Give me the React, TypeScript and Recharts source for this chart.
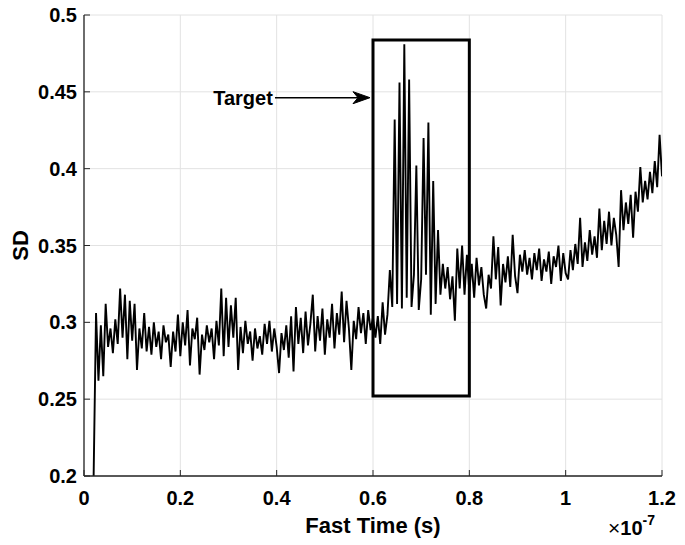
import React from 'react';
import {
  LineChart,
  Line,
  XAxis,
  YAxis,
  CartesianGrid,
  ReferenceArea,
  ReferenceLine,
  ReferenceDot,
} from 'recharts';

// Sampling grid of the measured SD trace (fast time, units of 1e-7 s)
const T_START = 0.02;
const T_STEP = 0.005;

// SD values, segment by segment
const sdSegA = [
  0.2, 0.306, 0.262, 0.298, 0.265, 0.312, 0.284, 0.296, 0.28, 0.302,
  0.286, 0.322, 0.29, 0.318, 0.276, 0.314, 0.288, 0.312, 0.269, 0.296,
  0.283, 0.306, 0.281, 0.297, 0.279, 0.3, 0.284, 0.294, 0.276, 0.298,
  0.287, 0.292, 0.271, 0.294, 0.281, 0.305, 0.278, 0.3, 0.285, 0.308,
  0.272, 0.296, 0.289, 0.303, 0.266, 0.292, 0.282, 0.298, 0.287, 0.296,
  0.276, 0.301, 0.285, 0.322, 0.278, 0.316, 0.284,
];
const sdSegB = [
  0.311, 0.29, 0.316, 0.269, 0.297, 0.28, 0.301, 0.286, 0.294, 0.275,
  0.296, 0.283, 0.291, 0.279, 0.299, 0.286, 0.301, 0.281, 0.296, 0.284,
  0.267, 0.293, 0.282, 0.298, 0.277, 0.304, 0.268, 0.31, 0.286, 0.303,
  0.28, 0.307, 0.285, 0.299, 0.318, 0.281, 0.304, 0.288, 0.309, 0.279,
  0.302, 0.29, 0.312, 0.283, 0.306, 0.292, 0.32, 0.287, 0.314, 0.296,
  0.269, 0.301, 0.289, 0.31, 0.293, 0.306, 0.286, 0.308, 0.295, 0.303,
];
const sdSegC = [
  0.29, 0.304, 0.286, 0.313, 0.292, 0.305, 0.334, 0.31, 0.432, 0.312,
  0.456, 0.309, 0.481, 0.316, 0.458, 0.31, 0.331, 0.402, 0.308, 0.328,
  0.42, 0.331, 0.43, 0.305, 0.392, 0.312, 0.36, 0.318, 0.338, 0.322,
  0.336, 0.315, 0.33, 0.301, 0.348, 0.322, 0.35, 0.318, 0.344, 0.32,
];
const sdSegD = [
  0.338, 0.316, 0.342, 0.324, 0.336, 0.318, 0.309, 0.331, 0.322, 0.356,
  0.328, 0.349, 0.311, 0.338, 0.326, 0.343, 0.323, 0.357, 0.33, 0.319,
  0.344, 0.333, 0.347, 0.331, 0.342, 0.328, 0.345, 0.334, 0.348, 0.327,
  0.341, 0.333, 0.346, 0.325, 0.343, 0.336, 0.35, 0.327, 0.345, 0.332,
];
const sdSegE = [
  0.328, 0.347, 0.334, 0.351, 0.338, 0.368, 0.336, 0.352, 0.34, 0.36,
  0.344, 0.356, 0.342, 0.374, 0.347, 0.366, 0.351, 0.372, 0.35, 0.368,
  0.357, 0.336, 0.386, 0.36, 0.378, 0.364, 0.383, 0.355, 0.385, 0.372,
  0.401, 0.378, 0.392, 0.38, 0.398, 0.384, 0.405, 0.388, 0.422, 0.395,
];

const xTicks = [0, 0.2, 0.4, 0.6, 0.8, 1, 1.2];
const xTickLabels = ['0', '0.2', '0.4', '0.6', '0.8', '1', '1.2'];
const yTicks = [0.2, 0.25, 0.3, 0.35, 0.4, 0.45, 0.5];
const yTickLabels = ['0.2', '0.25', '0.3', '0.35', '0.4', '0.45', '0.5'];

// Target box and annotation (data coordinates)
const targetBox = { x1: 0.6, x2: 0.8, y1: 0.252, y2: 0.4837 };
const arrowY = 0.4462;
const arrowStartX = 0.3965;
const arrowTipX = 0.5938;
const targetTextX = 0.392;

const sdValues = [...sdSegA, ...sdSegB, ...sdSegC, ...sdSegD, ...sdSegE];
const data = sdValues.map((v, i) => ({
  t: Number((T_START + i * T_STEP).toFixed(3)),
  sd: v,
}));

const FONT = '"Liberation Sans", Arial, Helvetica, sans-serif';
const AXIS_COLOR = '#262626';
const GRID_COLOR = '#e2e2e2';
const TICK_FS = 20;

const LeftTick = (props: any) => {
  const { x, y, index } = props;
  return (
    <g>
      <line x1={x} y1={y} x2={x + 6} y2={y} stroke={AXIS_COLOR} strokeWidth={1} />
      <text
        x={x - 7}
        y={y}
        textAnchor="end"
        dominantBaseline="central"
        fontFamily={FONT}
        fontWeight="bold"
        fontSize={TICK_FS}
        fill="#000"
      >
        {yTickLabels[index]}
      </text>
    </g>
  );
};

const RightTick = (props: any) => {
  const { x, y } = props;
  return <line x1={x} y1={y} x2={x - 6} y2={y} stroke={AXIS_COLOR} strokeWidth={1} />;
};

const BottomTick = (props: any) => {
  const { x, y, index } = props;
  return (
    <g>
      <line x1={x} y1={y} x2={x} y2={y - 6} stroke={AXIS_COLOR} strokeWidth={1} />
      <text
        x={x}
        y={y + 22}
        textAnchor="middle"
        dominantBaseline="central"
        fontFamily={FONT}
        fontWeight="bold"
        fontSize={TICK_FS}
        fill="#000"
      >
        {xTickLabels[index]}
      </text>
    </g>
  );
};

const TopTick = (props: any) => {
  const { x, y } = props;
  return <line x1={x} y1={y} x2={x} y2={y + 6} stroke={AXIS_COLOR} strokeWidth={1} />;
};

const YTitle = (props: any) => {
  const vb = props.viewBox || { x: 24, y: 15, width: 60, height: 461 };
  const cx = vb.x - 4;
  const cy = vb.y + vb.height / 2;
  return (
    <text
      x={cx}
      y={cy}
      transform={`rotate(-90, ${cx}, ${cy})`}
      textAnchor="middle"
      dominantBaseline="central"
      fontFamily={FONT}
      fontWeight="bold"
      fontSize={22}
      fill="#000"
    >
      SD
    </text>
  );
};

const XTitle = (props: any) => {
  const vb = props.viewBox || { x: 84, y: 476, width: 578, height: 30 };
  const cx = vb.x + vb.width / 2;
  const cy = vb.y + 49;
  const ex = vb.x + vb.width - 54;
  return (
    <g>
      <text
        x={cx}
        y={cy}
        textAnchor="middle"
        dominantBaseline="central"
        fontFamily={FONT}
        fontWeight="bold"
        fontSize={22}
        fill="#000"
      >
        Fast Time (s)
      </text>
      <text x={ex} y={cy + 10} fontFamily={FONT} fill="#000">
        <tspan fontSize={21} fontWeight="normal">×</tspan>
        <tspan fontSize={20} fontWeight="bold">10</tspan>
        <tspan fontSize={14} fontWeight="bold" dy={-10}>-7</tspan>
      </text>
    </g>
  );
};

const ArrowHead = (props: any) => {
  const { cx, cy } = props;
  if (cx == null || cy == null) return null;
  return (
    <polygon
      points={`${cx},${cy} ${cx - 17},${cy - 6} ${cx - 12},${cy} ${cx - 17},${cy + 6}`}
      fill="#000"
      stroke="#000"
      strokeWidth={1}
    />
  );
};

const TargetText = (props: any) => {
  const { cx, cy } = props;
  if (cx == null || cy == null) return null;
  return (
    <text
      x={cx}
      y={cy}
      textAnchor="end"
      dominantBaseline="central"
      fontFamily={FONT}
      fontWeight="bold"
      fontSize={20}
      fill="#000"
    >
      Target
    </text>
  );
};

export default function App() {
  return (
    <div style={{ position: 'absolute', left: 0, top: 0, width: 685, height: 545, background: '#fff' }}>
      <LineChart
        width={685}
        height={545}
        data={data}
        margin={{ top: 15, right: 23, bottom: 39, left: 24 }}
        style={{ fontFamily: FONT }}
      >
        <CartesianGrid stroke={GRID_COLOR} strokeWidth={1} />
        <XAxis
          dataKey="t"
          type="number"
          domain={[0, 1.2]}
          ticks={xTicks}
          interval={0}
          allowDataOverflow
          height={30}
          tickSize={0}
          tickMargin={0}
          tickLine={false}
          tick={<BottomTick />}
          axisLine={{ stroke: AXIS_COLOR, strokeWidth: 1.3 }}
          label={<XTitle />}
        />
        <XAxis
          xAxisId="top"
          orientation="top"
          type="number"
          domain={[0, 1.2]}
          ticks={xTicks}
          interval={0}
          allowDataOverflow
          height={0}
          tickSize={0}
          tickMargin={0}
          tickLine={false}
          tick={<TopTick />}
          axisLine={{ stroke: AXIS_COLOR, strokeWidth: 1.3 }}
        />
        <YAxis
          type="number"
          domain={[0.2, 0.5]}
          ticks={yTicks}
          interval={0}
          allowDataOverflow
          width={60}
          tickSize={0}
          tickMargin={0}
          tickLine={false}
          tick={<LeftTick />}
          axisLine={{ stroke: AXIS_COLOR, strokeWidth: 1.3 }}
          label={<YTitle />}
        />
        <YAxis
          yAxisId="right"
          orientation="right"
          type="number"
          domain={[0.2, 0.5]}
          ticks={yTicks}
          interval={0}
          allowDataOverflow
          width={0}
          tickSize={0}
          tickMargin={0}
          tickLine={false}
          tick={<RightTick />}
          axisLine={{ stroke: AXIS_COLOR, strokeWidth: 1.3 }}
        />
        <Line
          type="linear"
          dataKey="sd"
          stroke="#000"
          strokeWidth={1.9}
          dot={false}
          isAnimationActive={false}
        />
        <ReferenceArea
          x1={targetBox.x1}
          x2={targetBox.x2}
          y1={targetBox.y1}
          y2={targetBox.y2}
          fill="none"
          fillOpacity={0}
          stroke="#000"
          strokeWidth={3}
        />
        <ReferenceLine
          segment={[
            { x: arrowStartX, y: arrowY },
            { x: arrowTipX - 0.012, y: arrowY },
          ]}
          stroke="#000"
          strokeWidth={1.5}
        />
        <ReferenceDot x={arrowTipX} y={arrowY} r={1} shape={<ArrowHead />} />
        <ReferenceDot x={targetTextX} y={arrowY} r={1} shape={<TargetText />} />
      </LineChart>
    </div>
  );
}
